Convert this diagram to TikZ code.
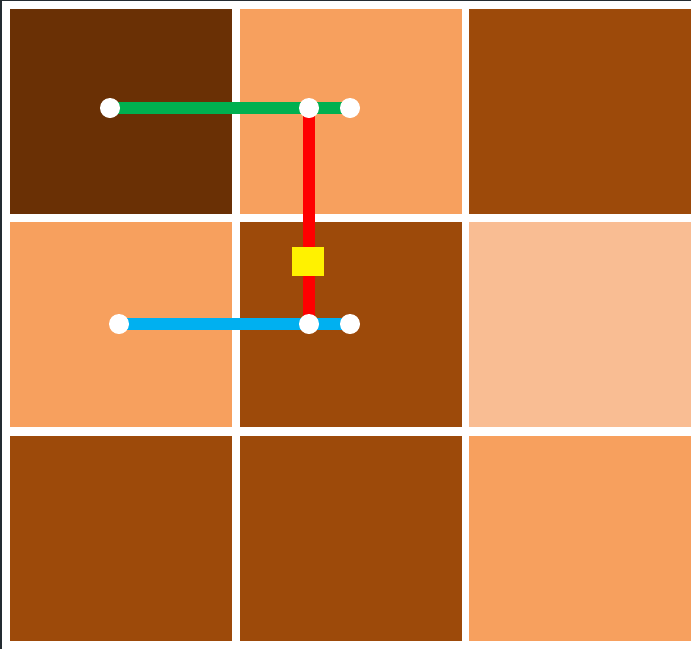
\documentclass[tikz,border=0pt]{standalone}
\usetikzlibrary{positioning}
\definecolor{darkbrown}{HTML}{6A3005}
\definecolor{rust}{HTML}{9D4A0A}
\definecolor{apricot}{HTML}{F7A05E}
\definecolor{peach}{HTML}{F9BD93}
\definecolor{framegray}{HTML}{232B31}
\definecolor{pathgreen}{HTML}{00B050}
\definecolor{pathblue}{HTML}{00B0F0}
\tikzset{
  cell/.style={rectangle,inner sep=0pt,outer sep=0pt,minimum width=222pt,minimum height=205pt},
  dot/.style={circle,fill=white,inner sep=0pt,minimum size=20pt},
  wire/.style={line width=12pt},
}
\begin{document}
\begin{tikzpicture}[x=1pt,y=-1pt]
\useasboundingbox (0,0) rectangle (691,649);
\fill[white] (0,0) rectangle (691,649);
\fill[framegray] (0,0) rectangle (2,649);
\fill[framegray] (0,0) rectangle (691,1);
% tiles
\node[cell,fill=darkbrown] (c11) at (121,111.5) {};
\node[cell,fill=apricot] (c12) at (350.5,111.5) {};
\node[cell,fill=rust] (c13) at (580,111.5) {};
\node[cell,fill=apricot] (c21) at (121,324.5) {};
\node[cell,fill=rust] (c22) at (350.5,324.5) {};
\node[cell,fill=peach] (c23) at (580,324.5) {};
\node[cell,fill=rust] (c31) at (121,538) {};
\node[cell,fill=rust] (c32) at (350.5,538) {};
\node[cell,fill=apricot] (c33) at (580,538) {};
% pins
\coordinate (ga) at (110,108);
\coordinate (gb) at (309,108);
\coordinate (gc) at (350,108);
\coordinate (ba) at (119,324);
\coordinate (bb) at (309,324);
\coordinate (bc) at (350,324);
% wires
\draw[wire,red] (gb) -- (bb);
\draw[wire,pathgreen] (ga) -- (gc);
\draw[wire,pathblue] (ba) -- (bc);
\node[fill=yellow,inner sep=0pt,minimum width=32pt,minimum height=29pt] (via) at (308,261.5) {};
\foreach \p in {ga,gb,gc,ba,bb,bc}
  \node[dot] (d\p) at (\p) {};
\end{tikzpicture}
\end{document}
